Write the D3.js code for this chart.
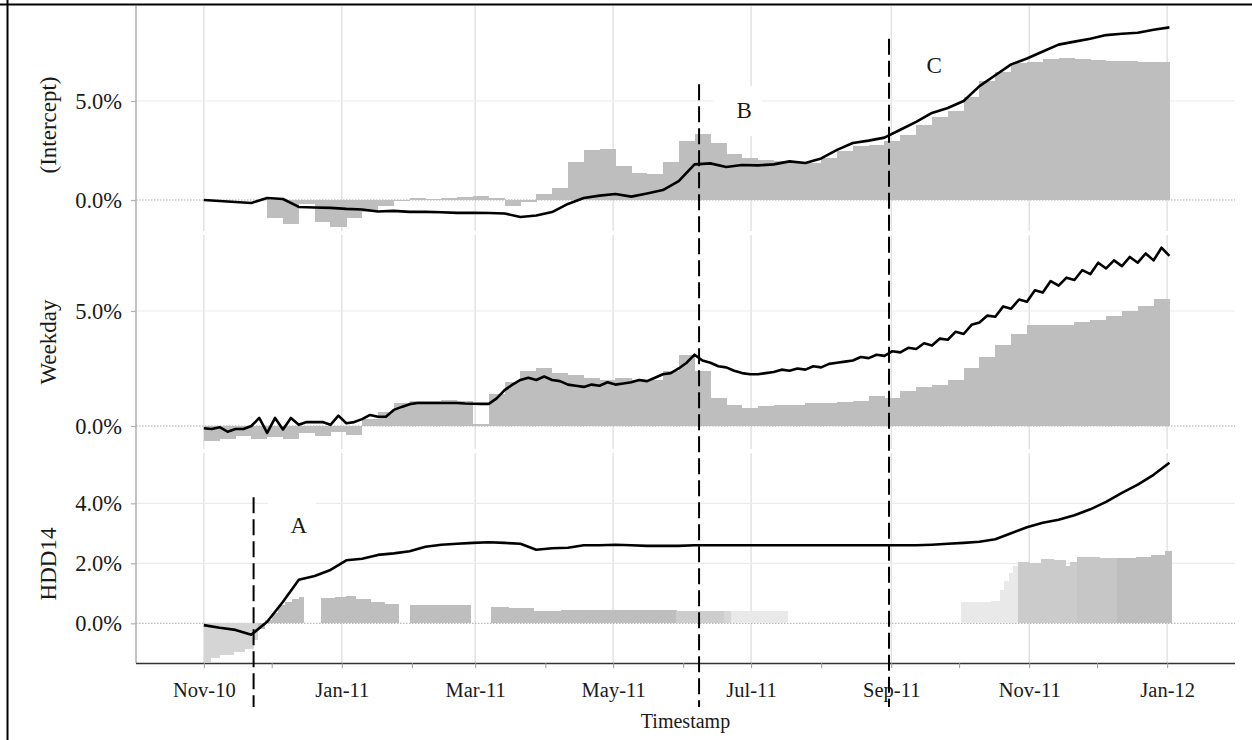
<!DOCTYPE html>
<html>
<head>
<meta charset="utf-8">
<script src="https://cdn.jsdelivr.net/npm/d3@7"></script>
<style>
  body { margin: 0; background: #fff; }
  svg { display: block; font-family: "Liberation Serif", "Times New Roman", serif; }
</style>
</head>
<body>
<svg id="chart" width="1252" height="740"></svg>
<script>
// all weekly series start on 2010-11-01
const startDate = new Date(2010, 10, 1);

// (Intercept): weekly bars and cumulative line, in %
const interceptBars = [0, 0, 0, 0, -0.9, -1.2, -0.2, -1.1, -1.35, -0.9,
  -0.6, -0.3, -0.05, 0.1, 0.05, 0.1, 0.15, 0.2, 0.1, -0.3,
  -0.1, 0.3, 0.6, 1.9, 2.55, 2.6, 1.7, 1.35, 1.3, 1.9,
  3.0, 3.35, 2.9, 2.3, 2.1, 2.0, 1.95, 1.85, 1.85, 2.1,
  2.45, 2.75, 2.8, 3.0, 3.3, 3.8, 4.2, 4.5, 5.2, 6.0,
  6.45, 6.9, 6.95, 7.1, 7.15, 7.1, 7.05, 7.0, 7.0, 6.95, 6.95];
const interceptLine = [0, -0.05, -0.1, -0.15, 0.1, 0.05, -0.35, -0.38, -0.4, -0.45,
  -0.48, -0.58, -0.55, -0.6, -0.6, -0.62, -0.65, -0.65, -0.66, -0.68,
  -0.86, -0.78, -0.61, -0.2, 0.1, 0.22, 0.3, 0.17, 0.33, 0.5,
  0.95, 1.8, 1.85, 1.67, 1.77, 1.75, 1.8, 1.95, 1.87, 2.1,
  2.53, 2.88, 3.0, 3.15, 3.55, 3.95, 4.4, 4.65, 5.0, 5.75,
  6.3, 6.85, 7.15, 7.5, 7.85, 8.0, 8.15, 8.33, 8.4, 8.45, 8.6, 8.72];

// Weekday: weekly bars, half-weekly line
const weekdayBars = [-0.65, -0.55, -0.45, -0.55, -0.5, -0.55, -0.3, -0.45, -0.25, -0.4,
  0.3, 0.6, 1.0, 1.1, 1.1, 1.15, 1.1, 0.1, 1.4, 1.9,
  2.4, 2.5, 2.3, 2.2, 2.1, 2.0, 2.1, 2.0, 2.0, 2.4,
  3.1, 2.4, 1.2, 0.9, 0.8, 0.85, 0.9, 0.9, 1.0, 1.0,
  1.05, 1.1, 1.3, 1.2, 1.5, 1.7, 1.8, 2.0, 2.5, 3.0,
  3.5, 4.0, 4.4, 4.4, 4.4, 4.5, 4.6, 4.8, 5.0, 5.2, 5.5];
const weekdayLine = [-0.1, -0.13, -0.05, -0.25, -0.13, -0.13, 0, 0.35, -0.3, 0.35,
  -0.15, 0.35, 0.05, 0.17, 0.17, 0.17, 0.05, 0.45, 0.12, 0.17,
  0.3, 0.48, 0.4, 0.4, 0.7, 0.83, 0.95, 1.0, 1.0, 1.0,
  1.0, 1.0, 1.0, 0.98, 0.97, 0.96, 0.96, 1.2, 1.56, 1.8,
  2.0, 2.1, 2.0, 2.15, 2.0, 1.95, 1.8, 1.75, 1.7, 1.8,
  1.75, 1.9, 1.8, 1.85, 1.9, 2.0, 1.95, 2.1, 2.25, 2.3,
  2.5, 2.75, 3.1, 2.85, 2.75, 2.6, 2.55, 2.4, 2.3, 2.25,
  2.25, 2.3, 2.35, 2.45, 2.4, 2.5, 2.45, 2.6, 2.55, 2.7,
  2.75, 2.8, 2.85, 3.0, 2.95, 3.1, 3.05, 3.25, 3.2, 3.4,
  3.35, 3.6, 3.5, 3.8, 3.75, 4.1, 4.0, 4.4, 4.5, 4.8,
  4.75, 5.2, 5.1, 5.5, 5.4, 5.9, 5.8, 6.3, 6.1, 6.45,
  6.35, 6.78, 6.6, 7.1, 6.85, 7.2, 6.95, 7.35, 7.1, 7.5,
  7.2, 7.75, 7.4];

// HDD14: weekly line, bars as runs (day offset, value, weight of estimate)
const hddLine = [-0.06, -0.15, -0.22, -0.38, 0.05, 0.72, 1.45, 1.58, 1.78, 2.1,
  2.15, 2.28, 2.33, 2.4, 2.55, 2.62, 2.65, 2.68, 2.7, 2.68,
  2.65, 2.45, 2.5, 2.52, 2.6, 2.6, 2.62, 2.6, 2.58, 2.58,
  2.58, 2.6, 2.6, 2.6, 2.6, 2.6, 2.6, 2.6, 2.6, 2.6,
  2.6, 2.6, 2.6, 2.6, 2.6, 2.6, 2.62, 2.65, 2.68, 2.72,
  2.8, 3.0, 3.2, 3.35, 3.45, 3.6, 3.8, 4.05, 4.35, 4.62, 4.95, 5.35];
const hddBarDays = [0, 3, 7, 13, 18, 22, 24, 27, 30, 33, 36, 39, 42, 44, 52, 58, 63, 67, 74, 80,
  86, 91, 118, 127, 135, 146, 158, 193, 209, 230, 233, 258, 335, 348, 352, 354, 356, 358, 360, 365,
  370, 376, 381, 383, 386, 396, 404, 412, 419, 425, 428];
const hddBarVals = [-1.3, -1.15, -1.05, -0.95, -0.85, -0.55, -0.2, 0.1, 0.35, 0.6, 0.72, 0.8, 0.88, 0, 0.85, 0.88, 0.92, 0.8, 0.72, 0.66,
  0, 0.6, 0, 0.56, 0.5, 0.42, 0.46, 0.44, 0.4, 0.4, 0.4, 0, 0.7, 0.75, 1.1, 1.4, 1.67, 1.9, 2.05, 2.0,
  2.15, 2.1, 1.9, 2.05, 2.2, 2.18, 2.17, 2.2, 2.27, 2.4, 0];
const hddBarWeight = [0.55, 0.55, 0.55, 0.55, 0.55, 0.55, 1, 1, 1, 1, 1, 1, 1, 1, 1, 1, 1, 1, 1, 1,
  1, 1, 1, 1, 1, 1, 1, 1, 0.7, 0.5, 0.15, 0.15, 0.15, 0.15, 0.15, 0.15, 0.15, 0.15, 0.75, 0.75,
  0.75, 0.75, 0.75, 0.75, 0.85, 0.85, 1, 1, 1, 1, 1];

// structural breaks
const markerDates = ['2010-11-23', '2011-06-08', '2011-08-31'];
const markerLabels = ['A', 'B', 'C'];
const markerPanel = [2, 0, 0];
const markerTop = [4.2, 5.85, 8.15];
const markerLabelValue = [3.25, 4.5, 6.8];

const panelNames = ['(Intercept)', 'Weekday', 'HDD14'];
const panelDomains = [[-1.566, 9.8], [-1.0, 8.304], [-1.323, 5.677]];
const panelTicks = [[0, 5], [0, 5], [0, 2, 4]];

const W = 1252, H = 740;
const left = 136, right = 1235;
const panelRanges = [[6, 231], [235, 449], [453, 663]];
const axisY = 663;

const svg = d3.select('#chart');
const parse = d3.timeParse('%Y-%m-%d');
const fmtPct = d => d3.format('.1f')(d) + '%';

const x = d3.scaleTime()
  .domain([new Date(2010, 9, 2), new Date(2012, 0, 31)])
  .range([left, right]);
const ys = panelDomains.map((dom, i) => d3.scaleLinear().domain(dom).range([panelRanges[i][1], panelRanges[i][0]]));
const shade = d3.scaleLinear().domain([0, 1]).range(['#f0f0f0', '#bebebe']);

const dayToDate = d => d3.timeHour.offset(startDate, Math.round(d * 24));
const labelMonths = d3.timeMonth.every(2).range(new Date(2010, 10, 1), new Date(2012, 0, 2));
const allMonths = d3.timeMonth.range(new Date(2010, 9, 2), new Date(2012, 0, 31));

// grid, per panel
const grid = svg.append('g');
panelRanges.forEach((r, i) => {
  const g = grid.append('g');
  g.selectAll('.vg').data(labelMonths).enter().append('line')
    .attr('x1', d => x(d)).attr('x2', d => x(d))
    .attr('y1', r[0]).attr('y2', r[1])
    .attr('stroke', '#e3e3e3').attr('stroke-width', 1.5);
  g.selectAll('.hg').data(panelTicks[i].filter(t => t !== 0)).enter().append('line')
    .attr('x1', left).attr('x2', right)
    .attr('y1', d => ys[i](d)).attr('y2', d => ys[i](d))
    .attr('stroke', '#ebebeb').attr('stroke-width', 1.2);
  g.append('line')
    .attr('x1', left).attr('x2', right)
    .attr('y1', ys[i](0)).attr('y2', ys[i](0))
    .attr('stroke', '#a8a8a8').attr('stroke-width', 1)
    .attr('stroke-dasharray', '1.5,1.5');
});

// bars: one rect per run
function drawBars(days, vals, weights, yScale) {
  const runs = vals.slice(0, -1).map((v, i) => ({
    x0: dayToDate(days[i]), x1: dayToDate(days[i + 1]), v, w: weights ? weights[i] : 1
  })).filter(d => d.v !== 0);
  svg.append('g').selectAll('rect').data(runs).enter().append('rect')
    .attr('x', d => x(d.x0))
    .attr('width', d => x(d.x1) - x(d.x0) + 0.3)
    .attr('y', d => yScale(Math.max(0, d.v)))
    .attr('height', d => Math.abs(yScale(d.v) - yScale(0)))
    .attr('fill', d => shade(d.w))
    .attr('shape-rendering', 'crispEdges');
}
const weekDays = n => d3.range(n).map(i => i * 7);

drawBars(weekDays(interceptBars.length + 1), interceptBars.concat([0]), null, ys[0]);
drawBars(weekDays(weekdayBars.length + 1), weekdayBars.concat([0]), null, ys[1]);
drawBars(hddBarDays, hddBarVals, hddBarWeight, ys[2]);

// lines
function drawLine(vals, step, yScale) {
  const line = d3.line()
    .x((d, i) => x(dayToDate(i * step)))
    .y(d => yScale(d));
  svg.append('path').datum(vals)
    .attr('d', line)
    .attr('fill', 'none')
    .attr('stroke', '#000')
    .attr('stroke-width', 2.6)
    .attr('stroke-linejoin', 'round');
}
drawLine(interceptLine, 7, ys[0]);
drawLine(weekdayLine, 3.5, ys[1]);
drawLine(hddLine, 7, ys[2]);

// y axis
svg.append('line')
  .attr('x1', left).attr('x2', left).attr('y1', panelRanges[0][0]).attr('y2', axisY)
  .attr('stroke', '#b0b0b0').attr('stroke-width', 1.5);
ys.forEach((yScale, i) => {
  const ax = svg.append('g')
    .attr('transform', `translate(${left},0)`)
    .call(d3.axisLeft(yScale).tickValues(panelTicks[i]).tickFormat(fmtPct).tickSize(5).tickPadding(9));
  ax.select('.domain').remove();
  ax.selectAll('line').attr('stroke', '#b0b0b0').attr('stroke-width', 1.2);
  ax.selectAll('text').attr('font-size', 22.5).attr('fill', '#1a1a1a')
    .attr('font-family', '"Liberation Serif", serif');
  const r = panelRanges[i];
  svg.append('text')
    .attr('transform', `translate(48,${i === 0 ? 125 : (r[0] + r[1]) / 2 + (i === 2 ? 6 : 0)}) rotate(-90)`)
    .attr('text-anchor', 'middle')
    .attr('dominant-baseline', 'central')
    .attr('font-size', 23)
    .attr('fill', '#1a1a1a')
    .text(panelNames[i]);
});

// x axis
const xa = svg.append('g')
  .attr('transform', `translate(0,${axisY})`)
  .call(d3.axisBottom(x).tickValues(allMonths).tickSize(5).tickPadding(14)
    .tickFormat(d => d.getMonth() % 2 === 0 ? d3.timeFormat('%b-%y')(d) : ''));
xa.select('.domain').attr('d', `M${left},0.5H${right}`).attr('stroke', '#333').attr('stroke-width', 1.5);
xa.selectAll('line').attr('stroke', '#999').attr('stroke-width', 1);
xa.selectAll('text').attr('font-size', 20.5).attr('fill', '#1a1a1a')
  .attr('font-family', '"Liberation Serif", serif');

svg.append('text')
  .attr('x', (left + right) / 2).attr('y', 728)
  .attr('text-anchor', 'middle')
  .attr('font-size', 20)
  .attr('fill', '#1a1a1a')
  .text('Timestamp');

// break markers with labels
markerDates.forEach((ds, i) => {
  const d = parse(ds);
  const yScale = ys[markerPanel[i]];
  svg.append('line')
    .attr('x1', x(d)).attr('x2', x(d))
    .attr('y1', yScale(markerTop[i])).attr('y2', axisY + 44)
    .attr('stroke', '#000').attr('stroke-width', 2)
    .attr('stroke-dasharray', '16,6');
  const lx = x(d3.timeDay.offset(d, 20));
  const ly = yScale(markerLabelValue[i]);
  svg.append('rect')
    .attr('x', lx - 31).attr('y', ly - 25)
    .attr('width', 48).attr('height', 50)
    .attr('fill', '#fff');
  svg.append('text')
    .attr('x', lx).attr('y', ly)
    .attr('text-anchor', 'middle')
    .attr('dominant-baseline', 'central')
    .attr('font-size', 23)
    .attr('fill', '#1a1a1a')
    .text(markerLabels[i]);
});

// outer frame
svg.append('line').attr('x1', 0).attr('x2', W).attr('y1', 4.5).attr('y2', 4.5)
  .attr('stroke', '#000').attr('stroke-width', 2);
svg.append('line').attr('x1', 7.5).attr('x2', 7.5).attr('y1', 0).attr('y2', H)
  .attr('stroke', '#000').attr('stroke-width', 2);
</script>
</body>
</html>
